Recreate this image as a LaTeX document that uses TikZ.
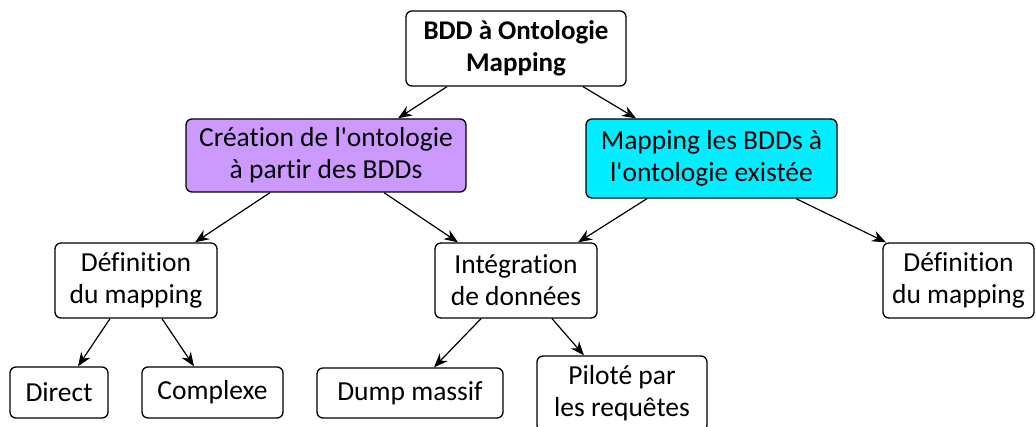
\documentclass[tikz,border=0pt]{standalone}
\usepackage{fontspec}
\setmainfont{Carlito}[Ligatures={TeXOff,CommonOff}]
\usetikzlibrary{arrows.meta}
\definecolor{creation}{HTML}{CC99FF}
\definecolor{existing}{HTML}{00EEFF}
\tikzset{
  box/.style={draw, line width=1.3pt, rounded corners=6pt, align=center,
    inner sep=0pt, font=\fontsize{27.5}{32}\selectfont},
  link/.style={line width=1.2pt, -{Stealth[length=14pt,width=11pt]}}
}

\begin{document}
\begin{tikzpicture}[x=1pt,y=-1pt]
  \useasboundingbox (0,0) rectangle (1036,427);

  % Nodes
  \node[box, minimum width=220pt, minimum height=75pt,
    font=\fontsize{27}{32}\selectfont\bfseries] (root) at (516,48.5) {BDD à Ontologie\\Mapping};
  \node[box, fill=creation, minimum width=280pt, minimum height=73pt] (creation) at (326,155.5) {Création de l'ontologie\\à partir des BDDs};
  \node[box, fill=existing, minimum width=251pt, minimum height=79pt] (existing) at (711.5,158.5) {Mapping les BDDs à\\l'ontologie existée};
  \node[box, minimum width=162pt, minimum height=75pt] (def1) at (136,280.5) {Définition\\du mapping};
  \node[box, minimum width=162pt, minimum height=75pt] (integ) at (516,280.5) {Intégration\\de données};
  \node[box, minimum width=151pt, minimum height=75pt] (def2) at (958.5,280.5) {Définition\\du mapping};
  \node[box, minimum width=98pt, minimum height=51pt] (direct) at (59,392.5) {Direct};
  \node[box, minimum width=141pt, minimum height=51pt] (complexe) at (212.5,392.5) {Complexe};
  \node[box, minimum width=186pt, minimum height=50pt] (dump) at (410,393) {Dump massif};
  \node[box, minimum width=170pt, minimum height=75pt] (pilote) at (622,393.5) {Piloté par\\les requêtes};

  % Links
  \draw[link] ([xshift=-69pt]root.south) -- ([xshift=72pt]creation.north);
  \draw[link] ([xshift=67pt]root.south) -- ([xshift=-75.5pt]existing.north);
  \draw[link] ([xshift=-56pt]creation.south) -- ([xshift=59pt]def1.north);
  \draw[link] ([xshift=58pt]creation.south) -- ([xshift=-58pt]integ.north);
  \draw[link] ([xshift=-64.5pt]existing.south) -- ([xshift=62pt]integ.north);
  \draw[link] ([xshift=84.5pt]existing.south) -- ([xshift=-72.5pt]def2.north);
  \draw[link] ([xshift=-26pt]def1.south) -- ([xshift=19pt]direct.north);
  \draw[link] ([xshift=26pt]def1.south) -- ([xshift=-18.5pt]complexe.north);
  \draw[link] ([xshift=-35pt]integ.south) -- ([xshift=24pt]dump.north);
  \draw[link] ([xshift=36pt]integ.south) -- ([xshift=-38pt]pilote.north);
\end{tikzpicture}
\end{document}
